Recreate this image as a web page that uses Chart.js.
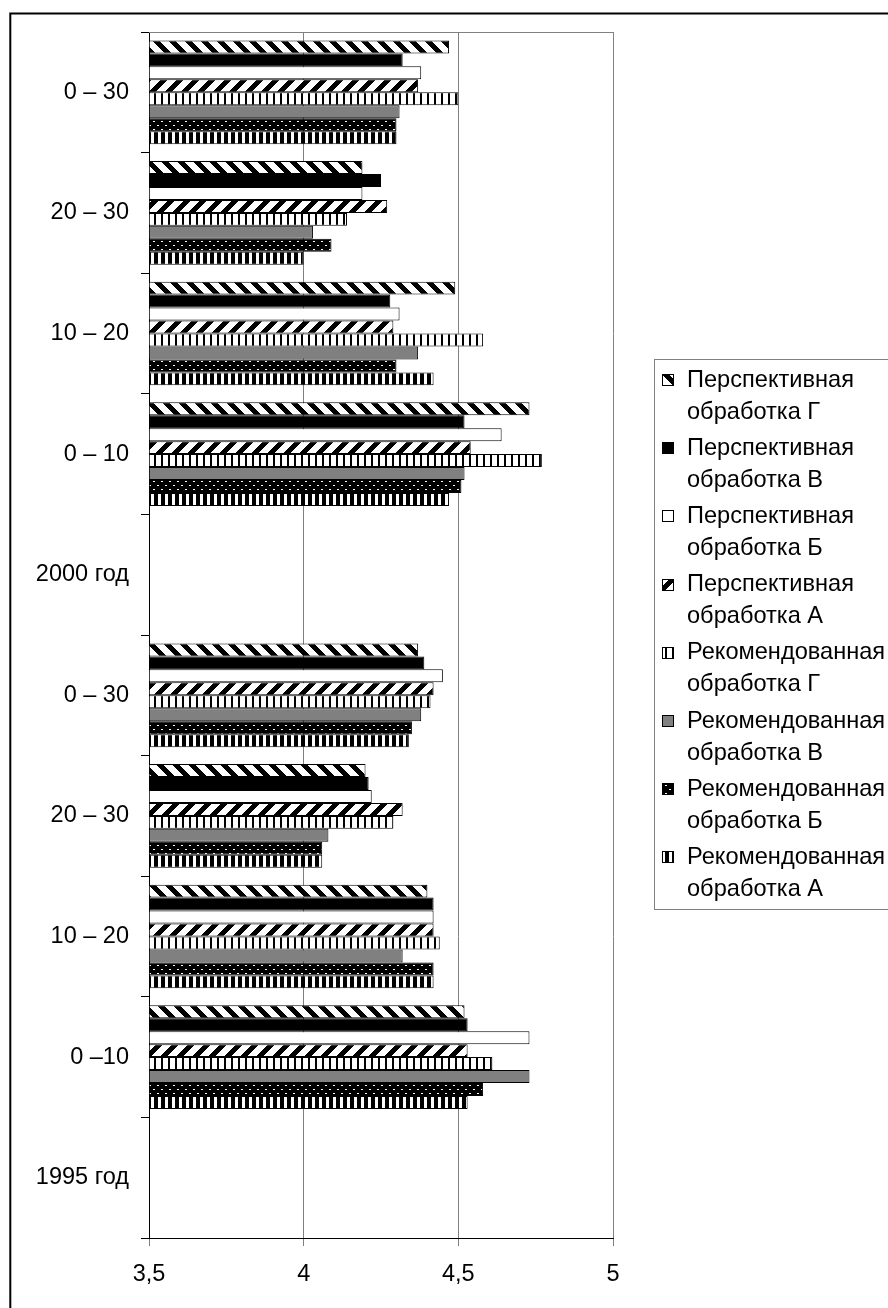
<!DOCTYPE html>
<html><head><meta charset="utf-8">
<script src="https://cdn.jsdelivr.net/npm/chart.js@4.4.1/dist/chart.umd.min.js"></script>
<style>html,body{margin:0;padding:0;background:#fff;}#wrap{width:888px;height:1308px;position:relative;overflow:hidden}</style>
</head><body><div id="wrap"><canvas id="c" width="888" height="1308"></canvas></div>
<script>
// Categories, top to bottom
const categories = ["0 – 30","20 – 30","10 – 20","0 – 10","2000 год","0 – 30","20 – 30","10 – 20","0 –10","1995 год"];
// Series values (null = year header row)
const perspG = [4.47, 4.19, 4.49, 4.73, null, 4.37, 4.20, 4.40, 4.52, null];
const perspV = [4.32, 4.25, 4.28, 4.52, null, 4.39, 4.21, 4.42, 4.53, null];
const perspB = [4.38, 4.19, 4.31, 4.64, null, 4.45, 4.22, 4.42, 4.73, null];
const perspA = [4.37, 4.27, 4.29, 4.54, null, 4.42, 4.32, 4.42, 4.53, null];
const recG   = [4.50, 4.14, 4.58, 4.77, null, 4.41, 4.29, 4.44, 4.61, null];
const recV   = [4.31, 4.03, 4.37, 4.52, null, 4.38, 4.08, 4.32, 4.73, null];
const recB   = [4.30, 4.09, 4.30, 4.51, null, 4.35, 4.06, 4.42, 4.58, null];
const recA   = [4.30, 4.00, 4.42, 4.47, null, 4.34, 4.06, 4.42, 4.53, null];
const seriesNames = ["Перспективная обработка Г","Перспективная обработка В","Перспективная обработка Б","Перспективная обработка А",
  "Рекомендованная обработка Г","Рекомендованная обработка В","Рекомендованная обработка Б","Рекомендованная обработка А"];
const xTickValues = [3.5, 4, 4.5, 5];
const xTickLabels = ["3,5", "4", "4,5", "5"];

const canvas = document.getElementById('c');
const ctx0 = canvas.getContext('2d');
function makePattern(w, h, fn) {
  const c = document.createElement('canvas'); c.width = w; c.height = h;
  const cx = c.getContext('2d'); const img = cx.createImageData(w, h);
  for (let y = 0; y < h; y++) for (let x = 0; x < w; x++) {
    const v = fn(x, y); const k = (y * w + x) * 4;
    img.data[k] = img.data[k+1] = img.data[k+2] = v; img.data[k+3] = 255;
  }
  cx.putImageData(img, 0, 0);
  return ctx0.createPattern(c, 'repeat');
}
const B = 0, W = 255;
const fills = [
  makePattern(16, 16, (x, y) => (((x - y) % 16 + 16) % 16) < 7 ? B : W),
  '#000000',
  '#ffffff',
  makePattern(16, 16, (x, y) => ((x + y) % 16) < 7 ? B : W),
  makePattern(7, 1, (x, y) => x < 2 ? B : W),
  '#808080',
  makePattern(8, 8, (x, y) => ((x === 1 && y === 1) || (x === 5 && y === 5) || (x === 2 && y === 1) || (x === 6 && y === 5)) ? W : B),
  makePattern(7, 1, (x, y) => x < 4 ? B : W)
];
const seriesData = [perspG, perspV, perspB, perspA, recG, recV, recB, recA];
const FONT = '"Liberation Sans", Arial, sans-serif';

const decor = {
  id: 'decor',
  beforeDraw(chart) {
    const ctx = chart.ctx; ctx.save();
    ctx.fillStyle = '#fff'; ctx.fillRect(0, 0, chart.width, chart.height);
    ctx.strokeStyle = '#000'; ctx.lineWidth = 2; ctx.strokeRect(10.3, 13.5, 2000, 2000);
    ctx.restore();
  },
  afterDraw(chart) {
    const ctx = chart.ctx, a = chart.chartArea; ctx.save();
    ctx.strokeStyle = '#808080'; ctx.lineWidth = 1;
    ctx.beginPath(); ctx.moveTo(a.left, a.top + 0.5); ctx.lineTo(a.right + 0.5, a.top + 0.5); ctx.stroke();
    // legend
    const lx = 654.5, ly = 359.5;
    ctx.strokeStyle = '#808080'; ctx.strokeRect(lx, ly, 400, 550);
    ctx.font = '23.6px ' + FONT;
    ctx.textBaseline = 'middle'; ctx.fillStyle = '#000';
    seriesNames.forEach((name, i) => {
      const y1 = 380 + 68.2 * i;
      const parts = name.split(' ');
      ctx.fillStyle = fills[i]; ctx.fillRect(662, Math.round(y1) - 6, 12, 12);
      ctx.strokeStyle = '#000'; ctx.strokeRect(662.5, Math.round(y1) - 5.5, 11, 11);
      ctx.fillStyle = '#000';
      ctx.fillText(parts[0], 687, y1);
      ctx.fillText(parts.slice(1).join(' '), 687, y1 + 32);
    });
    ctx.restore();
  }
};

Chart.defaults.font.family = FONT;
Chart.defaults.font.size = 23.5;
Chart.defaults.color = '#000';

new Chart(canvas, {
  type: 'bar',
  data: {
    labels: categories,
    datasets: seriesData.map((d, i) => ({
      label: seriesNames[i], data: d, backgroundColor: fills[i], borderColor: '#000', borderWidth: 1,
      base: 3.5, categoryPercentage: 0.86, barPercentage: 1.0, borderSkipped: 'start'
    }))
  },
  options: {
    indexAxis: 'y', responsive: false, animation: false, devicePixelRatio: 1,
    layout: { padding: { top: 32, right: 275, bottom: 0, left: 0 } },
    plugins: { legend: { display: false }, tooltip: { enabled: false } },
    scales: {
      x: {
        type: 'linear', min: 3.5, max: 5, position: 'bottom',
        grid: { color: '#808080', lineWidth: 1, drawTicks: true, tickLength: 8 },
        border: { color: '#000', width: 1 },
        ticks: { color: '#000', padding: 14, font: { size: 23.5 }, maxRotation: 0, callback: (v, i) => xTickLabels[i] },
        afterBuildTicks(s) { s.ticks = xTickValues.map(v => ({ value: v })); },
        afterFit(s) { s.height = 70; }
      },
      y: {
        type: 'category', offset: true,
        grid: { offset: true, drawOnChartArea: false, drawTicks: true, tickLength: 8, color: '#000', lineWidth: 1 },
        border: { display: true, color: '#000', width: 1 },
        ticks: { color: '#000', padding: 12, font: { size: 23.5 }, autoSkip: false },
        afterFit(s) { s.width = 149; }
      }
    }
  },
  plugins: [decor]
});
</script></body></html>
